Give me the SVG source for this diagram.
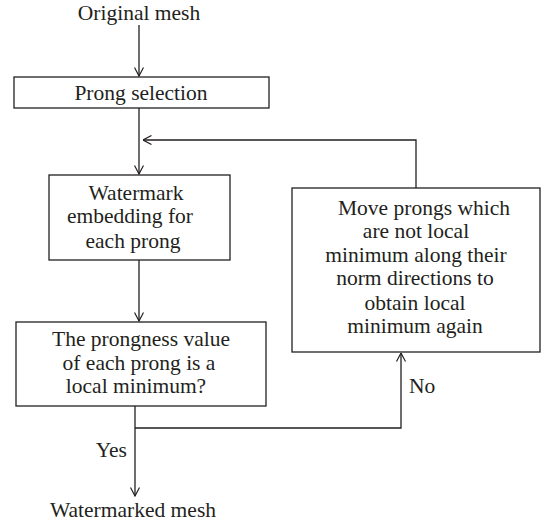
<svg xmlns="http://www.w3.org/2000/svg" width="545" height="523" viewBox="0 0 545 523">
<defs>
<marker id="ah" viewBox="0 0 10 10" refX="9.5" refY="5" markerWidth="10" markerHeight="10" markerUnits="userSpaceOnUse" orient="auto">
<path d="M1,0.5 L9.5,5 L1,9.5" fill="none" stroke="#231f20" stroke-width="1.2"/>
</marker>
</defs>
<style>
.box{fill:#fff;stroke:#231f20;stroke-width:1.3}
.ln{fill:none;stroke:#231f20;stroke-width:1.3}
.t{font-family:Liberation Serif, serif;font-size:21.5px;fill:#231f20;text-anchor:middle}
</style>
<rect width="545" height="523" fill="#fff"/>
<g id="connectors">
<line class="ln" x1="139" y1="25" x2="139" y2="76" marker-end="url(#ah)"/>
<line class="ln" x1="139" y1="108" x2="139" y2="174" marker-end="url(#ah)"/>
<polyline class="ln" points="416,188 416,140 143,140" marker-end="url(#ah)"/>
<line class="ln" x1="139" y1="260" x2="139" y2="321" marker-end="url(#ah)"/>
<line class="ln" x1="135" y1="406" x2="135" y2="496" marker-end="url(#ah)"/>
<polyline class="ln" points="135,428 401,428 401,353" marker-end="url(#ah)"/>
<text class="t" x="409" y="393" style="text-anchor:start">No</text>
<text class="t" x="127" y="457" style="text-anchor:end">Yes</text>
</g>
<g id="original"><text class="t" x="139" y="20">Original mesh</text></g>
<g id="prong-selection">
<rect class="box" x="14" y="77" width="255" height="31"/>
<text class="t" x="141" y="100">Prong selection</text>
</g>
<g id="watermark-embedding">
<rect class="box" x="49" y="175" width="181" height="85"/>
<text class="t" x="136" y="200">Watermark</text>
<text class="t" x="130" y="223">embedding for</text>
<text class="t" x="133" y="248">each prong</text>
</g>
<g id="prongness-check">
<rect class="box" x="16" y="322" width="250" height="84"/>
<text class="t" x="141" y="346">The prongness value</text>
<text class="t" x="139" y="370">of each prong is a</text>
<text class="t" x="136" y="393">local minimum?</text>
</g>
<g id="move-prongs">
<rect class="box" x="292" y="188" width="248" height="164"/>
<text class="t" x="424" y="215">Move prongs which</text>
<text class="t" x="416" y="238">are not local</text>
<text class="t" x="416" y="262">minimum along their</text>
<text class="t" x="415" y="285">norm directions to</text>
<text class="t" x="415" y="310">obtain local</text>
<text class="t" x="415" y="333">minimum again</text>
</g>
<g id="watermarked"><text class="t" x="133" y="517">Watermarked mesh</text></g>
</svg>
